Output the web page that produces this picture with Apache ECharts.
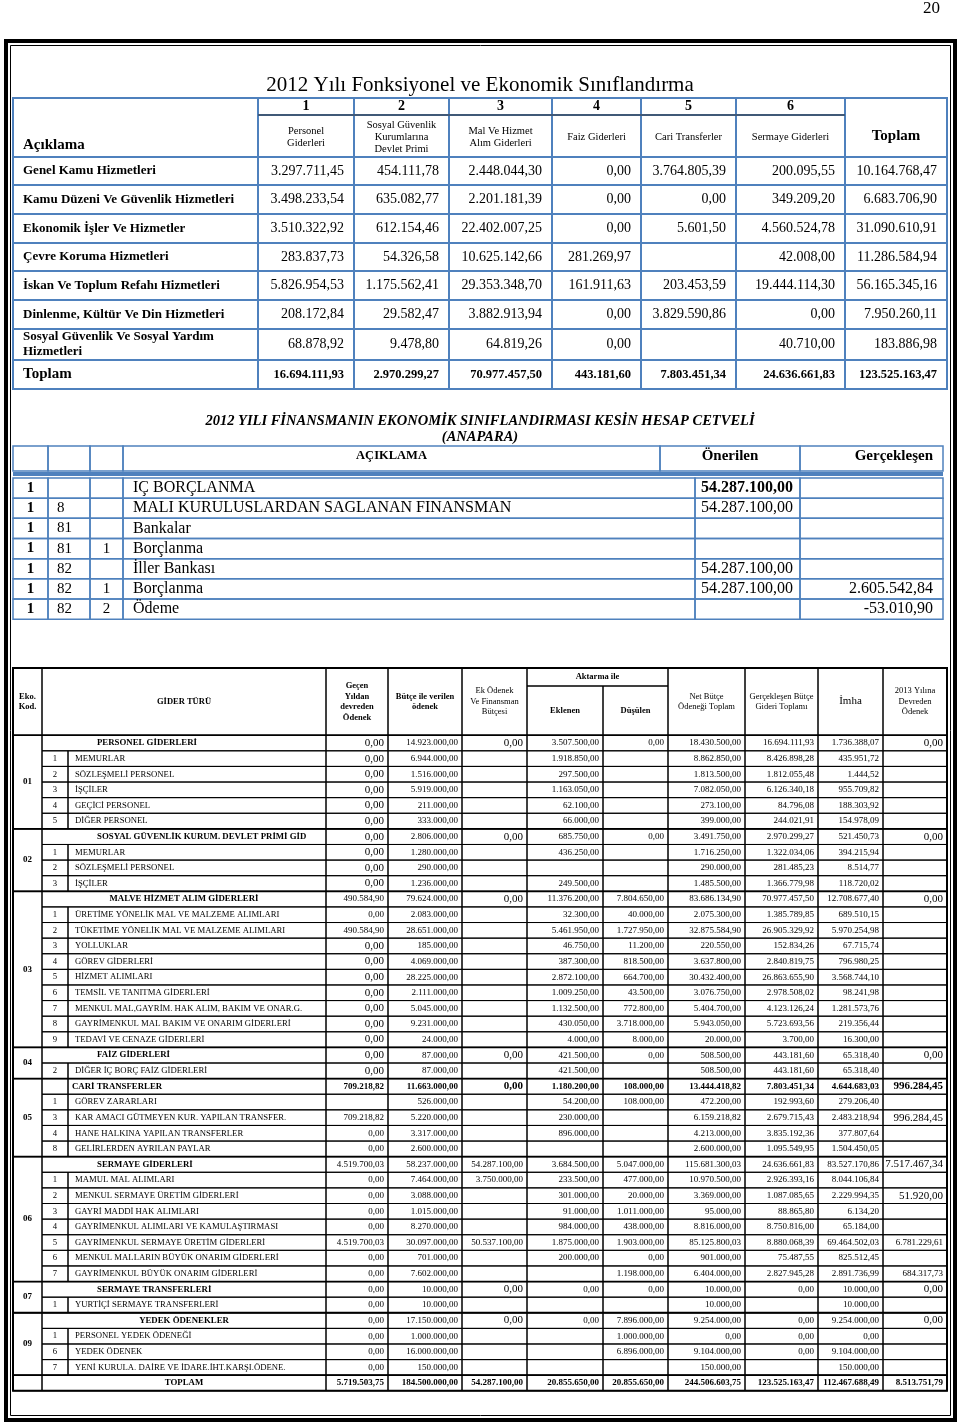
<!DOCTYPE html>
<html><head><meta charset="utf-8">
<script src="https://cdn.jsdelivr.net/npm/echarts@6/dist/echarts.min.js"></script>
<style>html,body{margin:0;padding:0;background:#fff}#c{width:960px;height:1426px}</style>
</head><body><div id="c"></div>
<script>
// ---------------- DATA ----------------
const pageNumber = '20';
const fnTitle = '2012 Yılı Fonksiyonel ve Ekonomik Sınıflandırma';
const fnCodes = ['1','2','3','4','5','6'];
const fnHeads = ['Personel\nGiderleri','Sosyal Güvenlik\nKurumlarına\nDevlet Primi','Mal Ve Hizmet\nAlım Giderleri','Faiz Giderleri','Cari Transferler','Sermaye Giderleri'];
const fnLabels = ['Genel Kamu Hizmetleri','Kamu Düzeni Ve Güvenlik Hizmetleri','Ekonomik İşler Ve Hizmetler','Çevre Koruma Hizmetleri','İskan Ve Toplum Refahı Hizmetleri','Dinlenme, Kültür Ve Din Hizmetleri','Sosyal Güvenlik Ve Sosyal Yardım\nHizmetleri','Toplam'];
const fnPersonel = [3297711.45,3498233.54,3510322.92,283837.73,5826954.53,208172.84,68878.92,16694111.93];
const fnSosyal   = [454111.78,635082.77,612154.46,54326.58,1175562.41,29582.47,9478.80,2970299.27];
const fnMal      = [2448044.30,2201181.39,22402007.25,10625142.66,29353348.70,3882913.94,64819.26,70977457.50];
const fnFaiz     = [0,0,0,281269.97,161911.63,0,0,443181.60];
const fnCari     = [3764805.39,0,5601.50,null,203453.59,3829590.86,null,7803451.34];
const fnSermaye  = [200095.55,349209.20,4560524.78,42008.00,19444114.30,0,40710.00,24636661.83];
const fnToplam   = [10164768.47,6683706.90,31090610.91,11286584.94,56165345.16,7950260.11,183886.98,123525163.47];

const finTitle = '2012 YILI FİNANSMANIN EKONOMİK SINIFLANDIRMASI KESİN HESAP CETVELİ';
const finSub = '(ANAPARA)';
const finHeads = ['AÇIKLAMA','Önerilen','Gerçekleşen'];
const finCode1 = ['1','1','1','1','1','1','1'];
const finCode2 = ['','8','81','81','82','82','82'];
const finCode3 = ['','','','1','','1','2'];
const finDesc = ['IÇ BORÇLANMA','MALI KURULUSLARDAN SAGLANAN FINANSMAN','Bankalar','Borçlanma','İller Bankası','Borçlanma','Ödeme'];
const finOnerilen = [54287100,54287100,null,null,54287100,54287100,null];
const finGercek = [null,null,null,null,null,2605542.84,-53010.90];

const botHeads = ['Eko.\nKod.','GİDER TÜRÜ','Geçen\nYıldan\ndevreden\nÖdenek','Bütçe ile verilen\nödenek','Ek Ödenek\nVe Finansman\nBütçesi','Aktarma ile','Eklenen','Düşülen','Net Bütçe\nÖdeneği Toplam','Gerçekleşen Bütçe\nGideri Toplamı','İmha','2013 Yılına\nDevreden\nÖdenek'];
const botGroup = ['01','01','01','01','01','01','02','02','02','02','03','03','03','03','03','03','03','03','03','03','04','04','05','05','05','05','05','06','06','06','06','06','06','06','06','07','07','09','09','09','09',''];
const botSub = ['','1','2','3','4','5','','1','2','3','','1','2','3','4','5','6','7','8','9','','2','','1','3','4','8','','1','2','3','4','5','6','7','','1','','1','6','7',''];
const botNames = ['PERSONEL GİDERLERİ','MEMURLAR','SÖZLEŞMELİ PERSONEL','İŞÇİLER','GEÇİCİ PERSONEL','DİĞER PERSONEL',
 'SOSYAL GÜVENLİK KURUM. DEVLET PRİMİ GİD','MEMURLAR','SÖZLEŞMELİ PERSONEL','İŞÇİLER',
 'MALVE HİZMET ALIM GİDERLERİ','ÜRETİME YÖNELİK MAL VE MALZEME ALIMLARI','TÜKETİME YÖNELİK MAL VE MALZEME ALIMLARI','YOLLUKLAR','GÖREV GİDERLERİ','HİZMET ALIMLARI','TEMSİL VE TANITMA GİDERLERİ','MENKUL MAL,GAYRİM. HAK ALIM, BAKIM VE ONAR.G.','GAYRİMENKUL MAL BAKIM VE ONARIM GİDERLERİ','TEDAVİ VE CENAZE GİDERLERİ',
 'FAİZ GİDERLERİ','DİĞER İÇ BORÇ FAİZ GİDERLERİ',
 'CARİ TRANSFERLER','GÖREV ZARARLARI','KAR AMACI GÜTMEYEN KUR. YAPILAN TRANSFER.','HANE HALKINA YAPILAN TRANSFERLER','GELİRLERDEN AYRILAN PAYLAR',
 'SERMAYE GİDERLERİ','MAMUL MAL ALIMLARI','MENKUL SERMAYE ÜRETİM GİDERLERİ','GAYRİ MADDİ HAK ALIMLARI','GAYRİMENKUL ALIMLARI VE KAMULAŞTIRMASI','GAYRİMENKUL SERMAYE ÜRETİM GİDERLERİ','MENKUL MALLARIN BÜYÜK ONARIM GİDERLERİ','GAYRİMENKUL BÜYÜK ONARIM GİDERLERİ',
 'SERMAYE TRANSFERLERİ','YURTİÇİ SERMAYE TRANSFERLERİ',
 'YEDEK ÖDENEKLER','PERSONEL YEDEK ÖDENEĞİ','YEDEK ÖDENEK','YENİ KURULA. DAİRE VE İDARE.İHT.KARŞI.ÖDENE.',
 'TOPLAM'];
const n = null;
const botGecen = [0,0,0,0,0,0, 0,0,0,0, 490584.90,0,490584.90,0,0,0,0,0,0,0, 0,0, 709218.82,n,709218.82,0,0, 4519700.03,0,0,0,0,4519700.03,0,0, 0,0, 0,0,0,0, 5719503.75];
const botButce = [14923000,6944000,1516000,5919000,211000,333000, 2806000,1280000,290000,1236000, 79624000,2083000,28651000,185000,4069000,28225000,2111000,5045000,9231000,24000, 87000,87000, 11663000,526000,5220000,3317000,2600000, 58237000,7464000,3088000,1015000,8270000,30097000,701000,7602000, 10000,10000, 17150000,1000000,16000000,150000, 184500000];
const botEk = [0,n,n,n,n,n, 0,n,n,n, 0,n,n,n,n,n,n,n,n,n, 0,n, 0,n,n,n,n, 54287100,3750000,n,n,n,50537100,n,n, 0,n, 0,n,n,n, 54287100];
const botEklenen = [3507500,1918850,297500,1163050,62100,66000, 685750,436250,n,249500, 11376200,32300,5461950,46750,387300,2872100,1009250,1132500,430050,4000, 421500,421500, 1180200,54200,230000,896000,n, 3684500,233500,301000,91000,984000,1875000,200000,n, 0,n, 0,n,n,n, 20855650];
const botDusulen = [0,n,n,n,n,n, 0,n,n,n, 7804650,40000,1727950,11200,818500,664700,43500,772800,3718000,8000, 0,n, 108000,108000,n,n,n, 5047000,477000,20000,1011000,438000,1903000,0,1198000, 0,n, 7896000,1000000,6896000,n, 20855650];
const botNet = [18430500,8862850,1813500,7082050,273100,399000, 3491750,1716250,290000,1485500, 83686134.90,2075300,32875584.90,220550,3637800,30432400,3076750,5404700,5943050,20000, 508500,508500, 13444418.82,472200,6159218.82,4213000,2600000, 115681300.03,10970500,3369000,95000,8816000,85125800.03,901000,6404000, 10000,10000, 9254000,0,9104000,150000, 244506603.75];
const botGercek = [16694111.93,8426898.28,1812055.48,6126340.18,84796.08,244021.91, 2970299.27,1322034.06,281485.23,1366779.98, 70977457.50,1385789.85,26905329.92,152834.26,2840819.75,26863655.90,2978508.02,4123126.24,5723693.56,3700, 443181.60,443181.60, 7803451.34,192993.60,2679715.43,3835192.36,1095549.95, 24636661.83,2926393.16,1087085.65,88865.80,8750816,8880068.39,75487.55,2827945.28, 0,n, 0,0,0,n, 123525163.47];
const botImha = [1736388.07,435951.72,1444.52,955709.82,188303.92,154978.09, 521450.73,394215.94,8514.77,118720.02, 12708677.40,689510.15,5970254.98,67715.74,796980.25,3568744.10,98241.98,1281573.76,219356.44,16300, 65318.40,65318.40, 4644683.03,279206.40,2483218.94,377807.64,1504450.05, 83527170.86,8044106.84,2229994.35,6134.20,65184,69464502.03,825512.45,2891736.99, 10000,10000, 9254000,0,9104000,150000, 112467688.49];
const botDevreden = [0,n,n,n,n,n, 0,n,n,n, 0,n,n,n,n,n,n,n,n,n, 0,n, 996284.45,n,996284.45,n,n, 7517467.34,n,51920,n,n,6781229.61,n,684317.73, 0,n, 0,n,n,n, 8513751.79];

// ---------------- LAYOUT / STYLE ----------------
const FONT = '"Liberation Serif","Times New Roman",serif';
const BLUE = '#4f81bd';
const topX = [13,258,354,449,552,641,736,845,947];
const topY = [98,115,157,185,214,243,271,300,329,360,389];
const midXh = [13,48,90,123,660,800,943];
const midXd = [13,48,90,123,695,800,943];
const midHeadY = [446,471], midY0 = 478, midRH = 20.17;
const botX = [13,42,68,326,388,462,527,603,668,745,818,883,947];
const botTop = 668, botSplit = 686, botY0 = 735.2, botRH = 15.61;
const HEAD_INDENT = ['PERSONEL GİDERLERİ','SOSYAL GÜVENLİK KURUM. DEVLET PRİMİ GİD','FAİZ GİDERLERİ','SERMAYE GİDERLERİ','SERMAYE TRANSFERLERİ'];
const BOLD_ROWS = ['CARİ TRANSFERLER','TOPLAM'];
const BIG_DEV = [996284.45,51920,7517467.34];

function fmt(v){
  if (v === null || v === undefined) return '';
  const neg = v < 0, s = Math.abs(v).toFixed(2).split('.');
  return (neg ? '-' : '') + s[0].replace(/\B(?=(\d{3})+(?!\d))/g, '.') + ',' + s[1];
}

const CELLS = [];
function addCell(x0,y0,x1,y1,o){ CELLS.push(Object.assign({x0:x0,y0:y0,x1:x1,y1:y1}, o||{})); }
function addLine(x0,y0,x1,y1,stroke,lw){ CELLS.push({kind:'line',x0:x0,y0:y0,x1:x1,y1:y1,stroke:stroke,lw:lw}); }

// ---- top table ----
const TB = {stroke:BLUE, lw:2};
addCell(topX[0],topY[0],topX[1],topY[2],Object.assign({text:'Açıklama',size:15,weight:'bold',pad:10,ty:145},TB));
fnCodes.forEach((c,j)=>{
  addCell(topX[j+1],topY[0],topX[j+2],topY[1],Object.assign({text:c,align:'center',size:14,weight:'bold'},TB));
  addCell(topX[j+1],topY[1],topX[j+2],topY[2],Object.assign({text:fnHeads[j],align:'center',size:10.5,lh:12,ty:137},TB));
});
addCell(topX[7],topY[0],topX[8],topY[2],Object.assign({text:'Toplam',align:'center',size:15,weight:'bold',ty:136},TB));
const fnCols = [fnPersonel,fnSosyal,fnMal,fnFaiz,fnCari,fnSermaye,fnToplam];
fnLabels.forEach((lab,i)=>{
  const y0 = topY[2+i], y1 = topY[3+i], tot = i === fnLabels.length-1;
  addCell(topX[0],y0,topX[1],y1,Object.assign({text:lab,size:tot?15:13,weight:'bold',pad:10,lh:15},TB));
  fnCols.forEach((col,j)=>{
    addCell(topX[j+1],y0,topX[j+2],y1,Object.assign({text:fmt(col[i]),align:'right',pad:10,size:tot?12.5:14,weight:tot?'bold':'normal'},TB));
  });
});
addLine(topX[1],topY[1],topX[7],topY[1],'#333',1.2);

// ---- middle table ----
const MB = {stroke:BLUE, lw:1.5};
for (let j=0;j<3;j++) addCell(midXh[j],midHeadY[0],midXh[j+1],midHeadY[1],MB);
addCell(midXh[3],midHeadY[0],midXh[4],midHeadY[1],Object.assign({text:finHeads[0],align:'center',size:12.5,weight:'bold',ty:456},MB));
addCell(midXh[4],midHeadY[0],midXh[5],midHeadY[1],Object.assign({text:finHeads[1],align:'center',size:15,weight:'bold',ty:456},MB));
addCell(midXh[5],midHeadY[0],midXh[6],midHeadY[1],Object.assign({text:finHeads[2],align:'right',pad:10,size:15,weight:'bold',ty:456},MB));
addLine(midXh[0],474,midXh[6],474,BLUE,4);
finDesc.forEach((d,i)=>{
  const y0 = midY0+i*midRH, y1 = y0+midRH;
  addCell(midXd[0],y0,midXd[1],y1,Object.assign({text:finCode1[i],align:'center',size:15,weight:'bold'},MB));
  addCell(midXd[1],y0,midXd[2],y1,Object.assign({text:finCode2[i],pad:9,size:15},MB));
  addCell(midXd[2],y0,midXd[3],y1,Object.assign({text:finCode3[i],align:'center',size:15},MB));
  addCell(midXd[3],y0,midXd[4],y1,Object.assign({text:d,pad:10,size:16},MB));
  addCell(midXd[4],y0,midXd[5],y1,Object.assign({text:fmt(finOnerilen[i]),align:'right',pad:7,size:16,weight:i===0?'bold':'normal'},MB));
  addCell(midXd[5],y0,midXd[6],y1,Object.assign({text:fmt(finGercek[i]),align:'right',pad:10,size:16},MB));
});

// ---- bottom table ----
const BB = {stroke:'#000', lw:1};
const hb = {size:8.5, lh:10.5, align:'center'};
addCell(botX[0],botTop,botX[1],botY0,Object.assign({text:botHeads[0],weight:'bold'},hb,BB));
addCell(botX[1],botTop,botX[3],botY0,Object.assign({text:botHeads[1],weight:'bold'},hb,BB));
addCell(botX[3],botTop,botX[4],botY0,Object.assign({text:botHeads[2],weight:'bold'},hb,BB));
addCell(botX[4],botTop,botX[5],botY0,Object.assign({text:botHeads[3],weight:'bold'},hb,BB));
addCell(botX[5],botTop,botX[6],botY0,Object.assign({text:botHeads[4]},hb,BB));
addCell(botX[6],botTop,botX[8],botSplit,Object.assign({text:botHeads[5],weight:'bold'},hb,BB));
addCell(botX[6],botSplit,botX[7],botY0,Object.assign({text:botHeads[6],weight:'bold'},hb,BB));
addCell(botX[7],botSplit,botX[8],botY0,Object.assign({text:botHeads[7],weight:'bold'},hb,BB));
addCell(botX[8],botTop,botX[9],botY0,Object.assign({text:botHeads[8]},hb,BB));
addCell(botX[9],botTop,botX[10],botY0,Object.assign({text:botHeads[9]},hb,BB));
addCell(botX[10],botTop,botX[11],botY0,Object.assign({text:botHeads[10]},hb,BB,{size:11}));
addCell(botX[11],botTop,botX[12],botY0,Object.assign({text:botHeads[11]},hb,BB));

const botCols = [botGecen,botButce,botEk,botEklenen,botDusulen,botNet,botGercek,botImha,botDevreden];
botNames.forEach((name,i)=>{
  const y0 = botY0+i*botRH, y1 = y0+botRH;
  const head = botSub[i] === '';
  const boldRow = BOLD_ROWS.indexOf(name) >= 0;
  if (name === 'CARİ TRANSFERLER') {
    addCell(botX[1],y0,botX[2],y1,BB);
    addCell(botX[2],y0,botX[3],y1,Object.assign({text:name,pad:4,size:8.8,weight:'bold'},BB));
  } else if (head) {
    const ind = HEAD_INDENT.indexOf(name) >= 0;
    addCell(botX[1],y0,botX[3],y1,Object.assign({text:name,size:8.8,weight:'bold',align:ind?'left':'center',pad:ind?55:0},BB));
  } else {
    addCell(botX[1],y0,botX[2],y1,Object.assign({text:botSub[i],align:'center',size:8.7},BB));
    addCell(botX[2],y0,botX[3],y1,Object.assign({text:name,pad:7,size:8.7},BB));
  }
  botCols.forEach((col,k)=>{
    const v = col[i];
    let big = false;
    if (v === 0 && (k === 2 || k === 8 || (k === 0 && i <= 21 && i !== 11))) big = true;
    if (k === 8 && BIG_DEV.indexOf(v) >= 0) big = true;
    addCell(botX[k+3],y0,botX[k+4],y1,Object.assign({text:fmt(v),align:'right',pad:4,size:big?11:9,weight:boldRow?'bold':'normal',clip:true},BB));
  });
});
// group code cells (merged)
let gs = 0;
for (let i=1;i<=botGroup.length;i++){
  if (i === botGroup.length || botGroup[i] !== botGroup[gs]) {
    addCell(botX[0],botY0+gs*botRH,botX[1],botY0+i*botRH,Object.assign({text:botGroup[gs],align:'center',size:9,weight:'bold'},BB));
    if (gs > 0) addLine(botX[0],botY0+gs*botRH,botX[12],botY0+gs*botRH,'#000',1.8);
    gs = i;
  }
}
addCell(botX[0],botTop,botX[12],botY0+botGroup.length*botRH,{stroke:'#000',lw:2});
addLine(botX[0],botY0,botX[12],botY0,'#000',1.6);

function renderItem(params, api){
  const c = CELLS[api.value(0)];
  const a = api.coord([c.x0,c.y0]), b = api.coord([c.x1,c.y1]);
  if (c.kind === 'line') {
    return {type:'line', shape:{x1:a[0],y1:a[1],x2:b[0],y2:b[1]}, style:{stroke:c.stroke,lineWidth:c.lw}};
  }
  const x0=Math.min(a[0],b[0]), x1=Math.max(a[0],b[0]), y0=Math.min(a[1],b[1]), y1=Math.max(a[1],b[1]);
  const ch = [];
  if (c.stroke) ch.push({type:'rect', shape:{x:x0,y:y0,width:x1-x0,height:y1-y0}, style:{fill:'none',stroke:c.stroke,lineWidth:c.lw||1}});
  if (c.text) {
    const al = c.align || 'left', pad = c.pad == null ? 4 : c.pad;
    const tx = al === 'left' ? x0+pad : (al === 'right' ? x1-pad : (x0+x1)/2);
    const ty = c.ty != null ? api.coord([0,c.ty])[1] : (y0+y1)/2;
    const st = {text:c.text, x:tx, y:ty, align:al, verticalAlign:'middle',
      font:(c.fstyle||'normal')+' '+(c.weight||'normal')+' '+c.size+'px '+FONT,
      fill:c.color||'#000', lineHeight:c.lh||Math.round(c.size*1.2)};
    if (c.clip) { st.width = x1-x0-pad-1; st.overflow = 'truncate'; st.ellipsis = ''; }
    ch.push({type:'text', style:st});
  }
  return {type:'group', children:ch};
}

const chart = echarts.init(document.getElementById('c'), null, {renderer:'canvas'});
chart.setOption({
  backgroundColor:'#fff',
  animation:false,
  title:[
    {text:pageNumber, right:20, top:0, padding:0, textStyle:{fontFamily:FONT,fontSize:17,fontWeight:'normal',color:'#000',lineHeight:17}},
    {text:fnTitle, left:'center', top:75, padding:0, textStyle:{fontFamily:FONT,fontSize:21,fontWeight:'normal',color:'#000',lineHeight:21}},
    {text:finTitle, left:'center', top:414, padding:0, textStyle:{fontFamily:FONT,fontSize:14.5,fontStyle:'italic',fontWeight:'bold',color:'#000',lineHeight:14}},
    {text:finSub, left:'center', top:430, padding:0, textStyle:{fontFamily:FONT,fontSize:14.5,fontStyle:'italic',fontWeight:'bold',color:'#000',lineHeight:14}}
  ],
  graphic:[
    {type:'rect', shape:{x:6,y:41,width:949,height:1379}, style:{fill:'none',stroke:'#000',lineWidth:4}},
    {type:'rect', shape:{x:10.5,y:45.5,width:940,height:1370}, style:{fill:'none',stroke:'#000',lineWidth:1}}
  ],
  grid:{left:0,top:0,width:960,height:1426},
  xAxis:{type:'value',min:0,max:960,show:false},
  yAxis:{type:'value',min:0,max:1426,inverse:true,show:false},
  series:[{type:'custom', renderItem:renderItem, clip:false, silent:true,
    data:CELLS.map((c,i)=>[i]), encode:{x:-1,y:-1}}]
});
</script></body></html>
